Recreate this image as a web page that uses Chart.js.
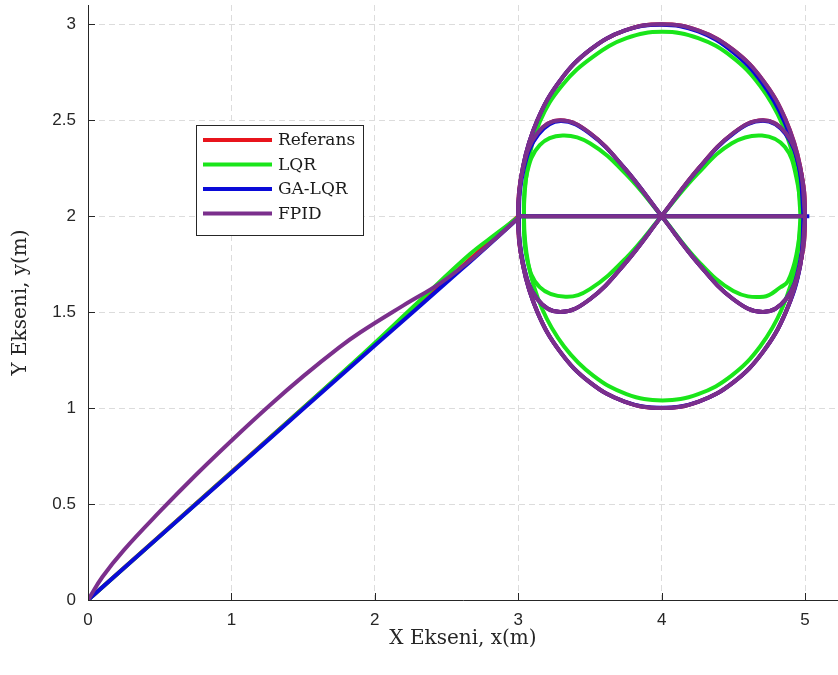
<!DOCTYPE html>
<html>
<head>
<meta charset="utf-8">
<script src="https://cdn.jsdelivr.net/npm/chart.js@4.4.1/dist/chart.umd.min.js"></script>
<style>
  html, body { margin: 0; padding: 0; background: #fff; }
  #wrap { width: 838px; height: 675px; }
</style>
</head>
<body>
<div id="wrap"><canvas id="chart" width="838" height="675"></canvas></div>
<script>
// tick values
const xTickValues = [0, 1, 2, 3, 4, 5];
const yTickValues = [0, 0.5, 1, 1.5, 2, 2.5, 3];

const seriesNames = ['Referans', 'LQR', 'GA-LQR', 'FPID'];

// approach from the origin
const refPath = [[0, 0], [3, 2]];
const lqrPath = [[0, 0], [1, 0.665], [1.9, 1.27], [2.3, 1.55], [2.66, 1.80], [2.85, 1.91], [2.99, 1.99]];
const gaPath = [[0, 0], [1, 0.663], [2, 1.326], [2.6, 1.72], [3.01, 1.996]];
const fpidPath = [[0, 0], [0.1, 0.12], [0.25, 0.26], [0.5, 0.46], [0.75, 0.65], [1, 0.83], [1.27, 1.016],
  [1.5, 1.165], [1.75, 1.315], [1.9, 1.395], [2.2, 1.535], [2.455, 1.65], [2.65, 1.76], [2.83, 1.875], [3.0, 1.99]];

// circle around (4, 2)
const refCircle = [[5, 2], [4.966, 2.259], [4.866, 2.5], [4.707, 2.707], [4.5, 2.866], [4.259, 2.966], [4, 3],
  [3.741, 2.966], [3.5, 2.866], [3.293, 2.707], [3.134, 2.5], [3.034, 2.259], [3, 2], [3.034, 1.741],
  [3.134, 1.5], [3.293, 1.293], [3.5, 1.134], [3.741, 1.034], [4, 1], [4.259, 1.034], [4.5, 1.134],
  [4.707, 1.293], [4.866, 1.5], [4.966, 1.741], [5, 2]];
const lqrCircle = [[4.97, 2], [4.937, 2.248], [4.841, 2.48], [4.687, 2.679], [4.488, 2.831], [4.255, 2.927], [4.005, 2.96],
  [3.755, 2.927], [3.523, 2.831], [3.31, 2.685], [3.15, 2.49], [3.065, 2.25], [3.04, 2], [3.07, 1.752],
  [3.165, 1.52], [3.32, 1.321], [3.523, 1.169], [3.755, 1.073], [4.005, 1.04], [4.255, 1.073], [4.488, 1.169],
  [4.687, 1.321], [4.841, 1.52], [4.937, 1.752], [4.97, 2]];
const gaCircle = [[4.99, 2], [4.958, 2.255], [4.856, 2.492], [4.697, 2.698], [4.492, 2.858], [4.255, 2.962], [4, 2.997],
  [3.741, 2.966], [3.5, 2.866], [3.293, 2.707], [3.134, 2.5], [3.034, 2.259], [3, 2], [3.034, 1.741],
  [3.134, 1.5], [3.293, 1.293], [3.5, 1.134], [3.741, 1.034], [4, 1.002], [4.259, 1.034], [4.5, 1.134],
  [4.707, 1.293], [4.866, 1.5], [4.966, 1.741], [4.99, 2]];
const fpidCircle = [[5, 2], [4.966, 2.259], [4.866, 2.5], [4.707, 2.707], [4.5, 2.866], [4.259, 2.966], [4, 3],
  [3.741, 2.966], [3.5, 2.866], [3.293, 2.707], [3.134, 2.5], [3.034, 2.259], [3, 2], [3.034, 1.741],
  [3.134, 1.5], [3.293, 1.293], [3.5, 1.134], [3.741, 1.034], [4, 1], [4.259, 1.034], [4.5, 1.134],
  [4.707, 1.293], [4.866, 1.5], [4.966, 1.741], [5, 2]];

// figure eight through (4, 2)
const refEight = [[4, 2], [4.259, 2.25], [4.5, 2.433], [4.707, 2.5], [4.866, 2.433], [4.966, 2.25], [5, 2],
  [4.966, 1.75], [4.866, 1.567], [4.707, 1.5], [4.5, 1.567], [4.259, 1.75], [4, 2], [3.741, 2.25],
  [3.5, 2.433], [3.293, 2.5], [3.134, 2.433], [3.034, 2.25], [3, 2], [3.034, 1.75], [3.134, 1.567],
  [3.293, 1.5], [3.5, 1.567], [3.741, 1.75], [4, 2]];
const lqrEight = [[4, 2], [4.25, 2.22], [4.49, 2.38], [4.70, 2.42], [4.86, 2.36], [4.94, 2.2], [4.97, 2],
  [4.94, 1.8], [4.88, 1.66], [4.83, 1.63], [4.71, 1.58], [4.5, 1.61], [4.25, 1.77], [4, 2], [3.75, 2.22],
  [3.5, 2.38], [3.31, 2.42], [3.15, 2.37], [3.06, 2.22], [3.04, 2], [3.06, 1.78], [3.15, 1.63],
  [3.33, 1.58], [3.5, 1.62], [3.75, 1.78], [4, 2]];
const gaEight = [[4, 2], [4.259, 2.248], [4.5, 2.43], [4.707, 2.497], [4.862, 2.43], [4.96, 2.25], [4.99, 2],
  [4.962, 1.75], [4.866, 1.567], [4.707, 1.5], [4.5, 1.567], [4.259, 1.75], [4, 2], [3.741, 2.25],
  [3.5, 2.43], [3.296, 2.495], [3.14, 2.425], [3.04, 2.25], [3.005, 2], [3.036, 1.75], [3.134, 1.567],
  [3.293, 1.5], [3.5, 1.567], [3.741, 1.75], [4, 2]];
const fpidEight = [[4, 2], [4.259, 2.25], [4.5, 2.433], [4.707, 2.5], [4.866, 2.433], [4.966, 2.25], [5, 2],
  [4.966, 1.75], [4.866, 1.567], [4.707, 1.5], [4.5, 1.567], [4.259, 1.75], [4, 2], [3.741, 2.25],
  [3.5, 2.433], [3.293, 2.5], [3.134, 2.433], [3.034, 2.25], [3, 2], [3.034, 1.75], [3.134, 1.567],
  [3.293, 1.5], [3.5, 1.567], [3.741, 1.75], [4, 2]];

// straight pass through the middle
const refLine = [[3, 2], [5, 2]];
const lqrLine = [[3.04, 2], [4.97, 2]];
const gaLine = [[3.01, 2], [5.03, 2]];
const fpidLine = [[3, 2], [5, 2]];

const colors = ['#e8141c', '#1ae51a', '#0a0ad8', '#7b2f8c'];
const segments = [
  [refPath, refCircle, refEight, refLine],
  [lqrPath, lqrCircle, lqrEight, lqrLine],
  [gaPath, gaCircle, gaEight, gaLine],
  [fpidPath, fpidCircle, fpidEight, fpidLine]
];

const datasets = [];
segments.forEach((parts, s) => {
  parts.forEach(pts => {
    datasets.push({
      label: seriesNames[s],
      data: pts.map(([x, y]) => ({ x, y })),
      showLine: true,
      borderColor: colors[s],
      backgroundColor: colors[s],
      borderWidth: 4,
      pointRadius: 0,
      tension: 0.4,
      order: 3 - s
    });
  });
});

const axisColor = '#262626';
const serif = '"DejaVu Serif", "Liberation Serif", serif';
const sans = '"Liberation Sans", Arial, sans-serif';

// MATLAB-like inward ticks and the boxed legend
const extras = {
  id: 'extras',
  afterDraw(chart) {
    const { ctx, chartArea, scales } = chart;
    ctx.save();
    ctx.strokeStyle = axisColor;
    ctx.lineWidth = 1;
    ctx.beginPath();
    xTickValues.forEach(v => {
      const px = Math.round(scales.x.getPixelForValue(v)) + 0.5;
      ctx.moveTo(px, chartArea.bottom);
      ctx.lineTo(px, chartArea.bottom - 7);
    });
    yTickValues.forEach(v => {
      const py = Math.round(scales.y.getPixelForValue(v)) + 0.5;
      ctx.moveTo(chartArea.left, py);
      ctx.lineTo(chartArea.left + 7, py);
    });
    ctx.stroke();

    const bx = 196.5, by = 125.5, bw = 167, bh = 110;
    ctx.fillStyle = '#fff';
    ctx.fillRect(bx, by, bw, bh);
    ctx.strokeStyle = axisColor;
    ctx.strokeRect(bx, by, bw, bh);
    ctx.font = '17px ' + serif;
    ctx.textBaseline = 'middle';
    seriesNames.forEach((name, i) => {
      const y = 140 + i * 24.5;
      ctx.strokeStyle = colors[i];
      ctx.lineWidth = 4;
      ctx.beginPath();
      ctx.moveTo(203, y);
      ctx.lineTo(272, y);
      ctx.stroke();
      ctx.fillStyle = '#1a1a1a';
      ctx.fillText(name, 278, y + 1);
    });
    ctx.restore();
  }
};

new Chart(document.getElementById('chart'), {
  type: 'scatter',
  data: { datasets },
  options: {
    responsive: false,
    animation: false,
    layout: { padding: { top: 5, right: 0, left: 0, bottom: 0 } },
    plugins: { legend: { display: false }, tooltip: { enabled: false } },
    scales: {
      x: {
        type: 'linear',
        min: 0,
        max: 5.23,
        afterBuildTicks: scale => { scale.ticks = xTickValues.map(v => ({ value: v })); },
        afterFit: scale => { scale.height = 75; scale.paddingLeft = 0; scale.paddingRight = 0; },
        ticks: {
          padding: 10,
          color: axisColor,
          font: { family: sans, size: 17 },
          maxRotation: 0,
          callback: v => String(v)
        },
        grid: { color: '#dcdcdc', lineWidth: 1, drawTicks: false },
        border: { display: true, color: axisColor, width: 1, dash: [6, 4] },
        title: {
          display: true,
          text: 'X Ekseni, x(m)',
          color: axisColor,
          font: { family: serif, size: 20 },
          padding: { top: 0, bottom: 24 }
        }
      },
      y: {
        type: 'linear',
        min: 0,
        max: 3.1,
        afterBuildTicks: scale => { scale.ticks = yTickValues.map(v => ({ value: v })); },
        afterFit: scale => { scale.width = 88; scale.paddingTop = 0; scale.paddingBottom = 0; },
        ticks: {
          padding: 12,
          color: axisColor,
          font: { family: sans, size: 17 },
          callback: v => String(v)
        },
        grid: { color: '#dcdcdc', lineWidth: 1, drawTicks: false },
        border: { display: true, color: axisColor, width: 1, dash: [6, 4] },
        title: {
          display: true,
          text: 'Y Ekseni, y(m)',
          color: axisColor,
          font: { family: serif, size: 20 },
          padding: { top: 9, bottom: 0 }
        }
      }
    }
  },
  plugins: [extras]
});
</script>
</body>
</html>
